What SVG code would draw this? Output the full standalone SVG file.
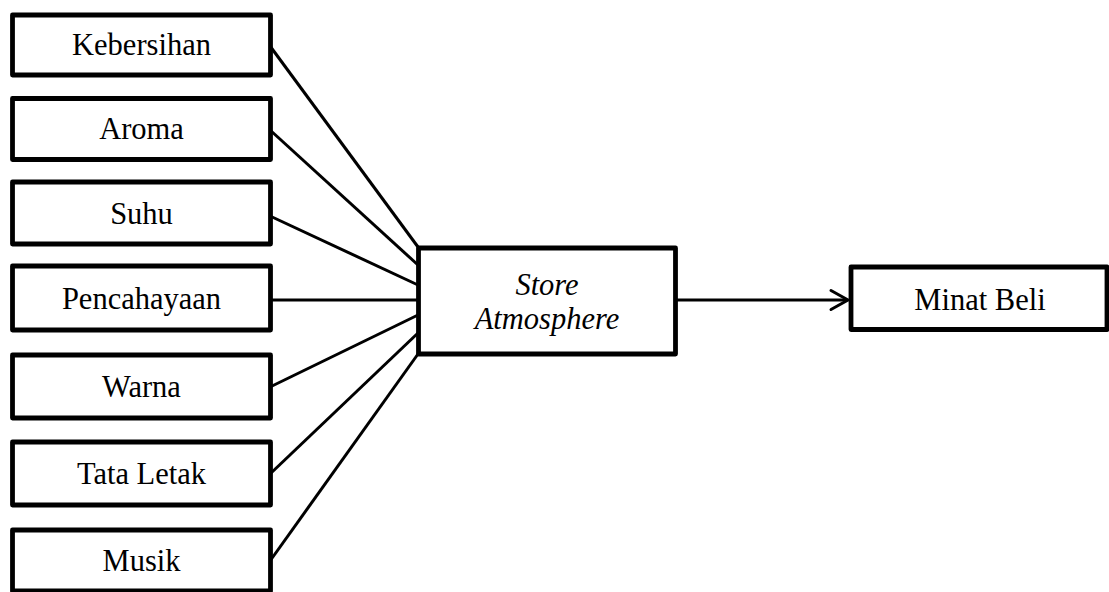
<svg xmlns="http://www.w3.org/2000/svg" width="1109" height="592" viewBox="0 0 1109 592">
<style>
.box{fill:#fff;stroke:#000;stroke-width:4.8;stroke-linejoin:round}
.lbl{font-family:"Liberation Serif","Times New Roman",serif;font-size:30.5px;fill:#000;text-anchor:middle}
.it{font-style:italic}
.con{stroke:#000;stroke-width:3;fill:none}
</style>
<rect width="1109" height="592" fill="#fff"/>
<g id="connectors">
<line class="con" x1="270" y1="46" x2="418" y2="247"/>
<line class="con" x1="270" y1="130" x2="418" y2="265"/>
<line class="con" x1="270" y1="216" x2="418" y2="285"/>
<line class="con" x1="270" y1="300" x2="418" y2="300"/>
<line class="con" x1="270" y1="387" x2="418" y2="315"/>
<line class="con" x1="270" y1="474" x2="418" y2="333"/>
<line class="con" x1="270" y1="561" x2="418" y2="354"/>
<line class="con" x1="676" y1="300" x2="846" y2="300"/>
<path class="con" d="M831,290.5 L848,300 L831,309.5" stroke-width="3.5" stroke-linecap="round"/>
</g>
<g id="kebersihan"><rect class="box" x="12.5" y="15" width="258" height="60"/><text class="lbl" x="141.5" y="55">Kebersihan</text></g>
<g id="aroma"><rect class="box" x="12.5" y="98.5" width="258" height="61"/><text class="lbl" x="141.5" y="139">Aroma</text></g>
<g id="suhu"><rect class="box" x="12.5" y="182" width="258" height="62"/><text class="lbl" x="141.5" y="223.5">Suhu</text></g>
<g id="pencahayaan"><rect class="box" x="12.5" y="266" width="258" height="64"/><text class="lbl" x="141.5" y="308.5">Pencahayaan</text></g>
<g id="warna"><rect class="box" x="12.5" y="355" width="258" height="63"/><text class="lbl" x="141.5" y="396.5">Warna</text></g>
<g id="tata-letak"><rect class="box" x="12.5" y="442" width="258" height="63"/><text class="lbl" x="141.5" y="483.5">Tata Letak</text></g>
<g id="musik"><rect class="box" x="12.5" y="530" width="258" height="61"/><text class="lbl" x="141.5" y="571">Musik</text></g>
<g id="store-atmosphere"><rect class="box" x="418.5" y="248" width="257" height="106"/><text class="lbl it" x="547" y="295">Store</text><text class="lbl it" x="547" y="329">Atmosphere</text></g>
<g id="minat-beli"><rect class="box" x="851" y="267" width="256" height="62.5"/><text class="lbl" x="980" y="310">Minat Beli</text></g>
</svg>
